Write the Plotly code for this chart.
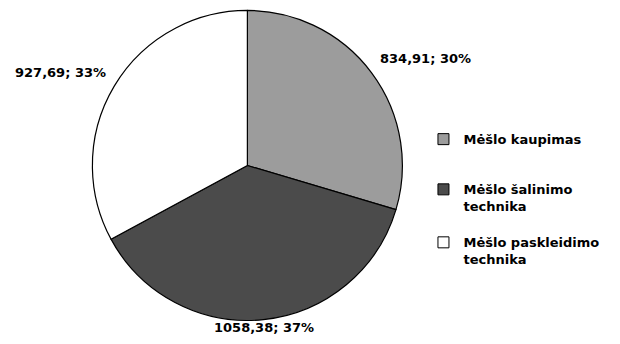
import math
import plotly.graph_objects as go

# Mėšlo tvarkymo sąnaudos pagal kategoriją
categories = ["Mėšlo kaupimas", "Mėšlo šalinimo<br>technika", "Mėšlo paskleidimo<br>technika"]
values = [834.91, 1058.38, 927.69]
percents = [30, 37, 33]
colors = ["#9c9c9c", "#4b4b4b", "#ffffff"]

texts = [f"{v:.2f}".replace(".", ",") + f"; {p}%" for v, p in zip(values, percents)]

W, H = 620, 344
pie_dom_x = [0.149, 0.649]
pie_dom_y = [0.068, 0.970]

label_font = dict(family="DejaVu Sans, Verdana", size=13, color="#000000", weight="bold")
legend_font = dict(family="DejaVu Sans, Verdana", size=13, color="#000000", weight="bold")

fig = go.Figure()
fig.add_trace(
    go.Pie(
        labels=categories,
        values=values,
        textinfo="none",
        sort=False,
        direction="clockwise",
        rotation=0,
        marker=dict(colors=colors, line=dict(color="#000000", width=1.2)),
        domain=dict(x=pie_dom_x, y=pie_dom_y),
        hoverinfo="label+value+percent",
        showlegend=False,
    )
)

# data labels just outside each slice, along its middle angle
cx = (pie_dom_x[0] + pie_dom_x[1]) / 2 * W
cy = (1 - (pie_dom_y[0] + pie_dom_y[1]) / 2) * H
radius = min((pie_dom_x[1] - pie_dom_x[0]) * W, (pie_dom_y[1] - pie_dom_y[0]) * H) / 2
label_dist = 1.05 * radius

total = sum(values)
cum = 0.0
for v, t in zip(values, texts):
    mid = 2 * math.pi * (cum + v / 2) / total
    cum += v
    s, c = math.sin(mid), math.cos(mid)
    px = cx + label_dist * s
    py = cy - label_dist * c
    if abs(s) < 0.3:
        xanchor, yanchor = "center", "middle"
    else:
        xanchor = "left" if s > 0 else "right"
        yanchor = "bottom" if c > 0.3 else ("top" if c < -0.3 else "middle")
    fig.add_annotation(
        x=px / W,
        y=1 - py / H,
        xref="paper",
        yref="paper",
        text=t,
        showarrow=False,
        xanchor=xanchor,
        yanchor=yanchor,
        font=label_font,
    )

# one legend box per category, each placed on its own
legend_names = ["legend", "legend2", "legend3"]
legend_y = [0.639, 0.493, 0.339]
for name, cat, col in zip(legend_names, categories, colors):
    fig.add_trace(
        go.Scatter(
            x=[None],
            y=[None],
            mode="markers",
            name=cat,
            marker=dict(symbol="square", size=11, color=col, line=dict(color="#000000", width=1)),
            legend=name,
            showlegend=True,
            hoverinfo="skip",
        )
    )

legend_common = dict(
    x=0.683,
    xanchor="left",
    yanchor="top",
    font=legend_font,
    itemwidth=30,
    valign="top",
    bgcolor="rgba(0,0,0,0)",
)

fig.update_layout(
    width=W,
    height=H,
    margin=dict(l=0, r=0, t=0, b=0),
    paper_bgcolor="#ffffff",
    plot_bgcolor="#ffffff",
    xaxis=dict(visible=False),
    yaxis=dict(visible=False),
    legend=dict(y=legend_y[0], **legend_common),
    legend2=dict(y=legend_y[1], **legend_common),
    legend3=dict(y=legend_y[2], **legend_common),
)

fig.write_html("out.html")
